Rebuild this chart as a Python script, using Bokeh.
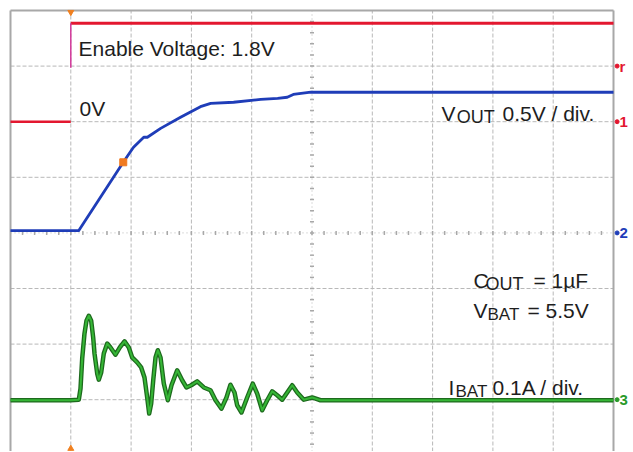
from bokeh.plotting import figure
from bokeh.models import Range1d, Label
from bokeh.embed import file_html
from bokeh.resources import INLINE
import numpy as np

# ---- data (in scope divisions) ----
enable_low_t = [0.0, 1.0]
enable_low_v = [6.0, 6.0]
enable_high_t = [1.0, 10.0]
enable_high_v = [7.77, 7.77]
enable_edge_t = [1.0, 1.0]
enable_edge_v = [7.77, 6.97]

vout_t = [0.0, 1.13, 1.87, 2.04, 2.21, 2.27, 2.49, 2.82, 3.15, 3.32, 3.70,
          4.15, 4.43, 4.59, 4.69, 4.98, 5.14, 10.0]
vout_v = [4.04, 4.04, 5.27, 5.54, 5.72, 5.72, 5.88, 6.08, 6.27, 6.33, 6.35,
          6.40, 6.42, 6.44, 6.49, 6.53, 6.53, 6.53]

marker_t = [1.87]
marker_v = [5.27]

ibat_t = [0.0, 0.995, 1.133, 1.161, 1.189, 1.227, 1.260, 1.299, 1.338, 1.371,
          1.393, 1.438, 1.464, 1.504, 1.547, 1.604, 1.658, 1.741, 1.813, 1.891,
          1.962, 2.018, 2.101, 2.167, 2.222, 2.267, 2.300, 2.333, 2.367, 2.405,
          2.443, 2.488, 2.542, 2.609, 2.670, 2.764, 2.847, 2.919, 2.997, 3.096,
          3.206, 3.317, 3.400, 3.499, 3.582, 3.648, 3.715, 3.759, 3.831, 3.925,
          4.018, 4.091, 4.174, 4.257, 4.340, 4.423, 4.506, 4.589, 4.672, 4.755,
          4.864, 5.003, 5.141, 10.0]
ibat_v = [0.99, 0.99, 1.00, 1.20, 1.74, 2.19, 2.42, 2.51, 2.42, 2.12,
          1.83, 1.47, 1.36, 1.49, 1.83, 2.01, 1.94, 1.81, 1.94, 2.05,
          1.94, 1.76, 1.67, 1.58, 1.40, 1.04, 0.75, 0.93, 1.35, 1.76,
          1.89, 1.76, 1.29, 0.99, 1.26, 1.53, 1.35, 1.22, 1.26, 1.33,
          1.22, 1.17, 0.99, 0.84, 1.04, 1.27, 1.13, 0.90, 0.77, 1.04,
          1.29, 1.11, 0.81, 0.99, 1.15, 1.08, 1.00, 1.13, 1.26, 1.13,
          1.00, 1.04, 0.99, 0.99]

x_divs = list(range(0, 11))
y_divs = list(range(0, 9))

# ---- figure ----
px_per_x = 60.3
px_per_y = 55.6
W, H = 631, 451
ml, mt = 8, 8
x0 = -2 / px_per_x
x1 = x0 + (W - ml) / px_per_x
y1 = 8 + 2 / px_per_y
y0 = y1 - (H - mt) / px_per_y

p = figure(width=W, height=H, output_backend="svg", toolbar_location=None,
           x_range=Range1d(x0, x1), y_range=Range1d(y0, y1),
           x_axis_location=None, y_axis_location=None,
           min_border_left=ml, min_border_right=0, min_border_top=mt,
           min_border_bottom=0, outline_line_color=None,
           background_fill_color="white", border_fill_color="white")
p.xgrid.visible = False
p.ygrid.visible = False

grid_col = "#b8b8b8"
gx = [d for d in x_divs if d not in (0, 5, 10)]
gy = [d for d in y_divs if d not in (0, 4, 8)]
p.segment(x0=gx, y0=[y0] * len(gx), x1=gx, y1=[8] * len(gx),
          line_color=grid_col, line_dash="4 2", line_width=1)
p.segment(x0=[0] * len(gy), y0=gy, x1=[10] * len(gy), y1=gy,
          line_color=grid_col, line_dash="4 2", line_width=1)

# centre lines with minor ticks
p.segment(x0=[5], y0=[y0], x1=[5], y1=[8], line_color=grid_col, line_dash="1 3", line_width=1)
p.segment(x0=[0], y0=[4], x1=[10], y1=[4], line_color=grid_col, line_dash="1 3", line_width=1)
minor_x = np.arange(0.2, 9.9, 0.2)
minor_y = np.arange(0.2, 7.9, 0.2)
p.scatter(minor_x, [4] * len(minor_x), marker="dash", angle=np.pi / 2, size=4,
          line_color="#a8a8a8", line_width=1.5)
p.scatter([5] * len(minor_y), minor_y, marker="dash", size=4,
          line_color="#a8a8a8", line_width=1.5)

# frame border (left, top, right)
border_col = "#a8a8a8"
p.segment(x0=[0, 0, 10], y0=[y0, 8, y0], x1=[0, 10, 10], y1=[8, 8, 8],
          line_color=border_col, line_width=2)

# traces
red = "#e3172f"
p.line(enable_low_t, enable_low_v, line_color=red, line_width=2.5)
p.line(enable_high_t, enable_high_v, line_color=red, line_width=3)
p.line(enable_edge_t, enable_edge_v, line_color="#d2389a", line_width=1.5)
p.scatter([1.0], [7.97], marker="inverted_triangle", size=6, fill_color="#f08020", line_color="#f08020")
p.scatter([1.0], [0.12], marker="triangle", size=6, fill_color="#f08020", line_color="#f08020")

blue = "#1f3db8"
p.line(vout_t, vout_v, line_color=blue, line_width=2.8, line_join="round")
p.scatter(marker_t, marker_v, marker="square", size=7, fill_color="#f07a20", line_color="#f07a20")

p.line(ibat_t, ibat_v, line_color="#1d6a1d", line_width=4.5, line_join="round")
p.line(ibat_t, ibat_v, line_color="#36b636", line_width=2, line_join="round")

# texts
font = "Liberation Sans"
tc = "#1e1e1e"

def lab(x, y, t, size=21, color=tc, bold=False, baseline="alphabetic"):
    p.add_layout(Label(x=x, y=y, text=t, text_font=font, text_font_size=f"{size}px",
                       text_color=color, text_baseline=baseline, text_align="left",
                       text_font_style="bold" if bold else "normal"))

lab(1.128, 7.317, "Enable Voltage: 1.8V")
lab(1.144, 6.237, "0V")

lab(7.148, 6.147, "V")
lab(7.400, 6.076, "OUT", 18)
lab(8.159, 6.147, "0.5V / div.")

lab(7.678, 3.144, "C")
lab(7.877, 3.072, "OUT", 18)
lab(8.673, 3.144, "= 1µF")

lab(7.678, 2.604, "V")
lab(7.910, 2.532, "BAT", 17)
lab(8.574, 2.604, "= 5.5V")

lab(7.264, 1.219, "I")
lab(7.380, 1.147, "BAT", 17)
lab(7.993, 1.219, "0.1A / div.")

# channel markers right of the screen
mk_t = [10.06, 10.06, 10.06, 10.06]
mk_v = [7.0, 6.0, 4.0, 1.0]
mk_c = [red, red, blue, "#2a9a2a"]
mk_s = ["r", "1", "2", "3"]
p.scatter(mk_t, mk_v, marker="circle", size=4, fill_color=mk_c, line_color=mk_c)
for t, v, c, s in zip(mk_t, mk_v, mk_c, mk_s):
    lab(t + 0.04, v, s, 15, c, True, "middle")

open("out.html", "w").write(file_html(p, INLINE))
